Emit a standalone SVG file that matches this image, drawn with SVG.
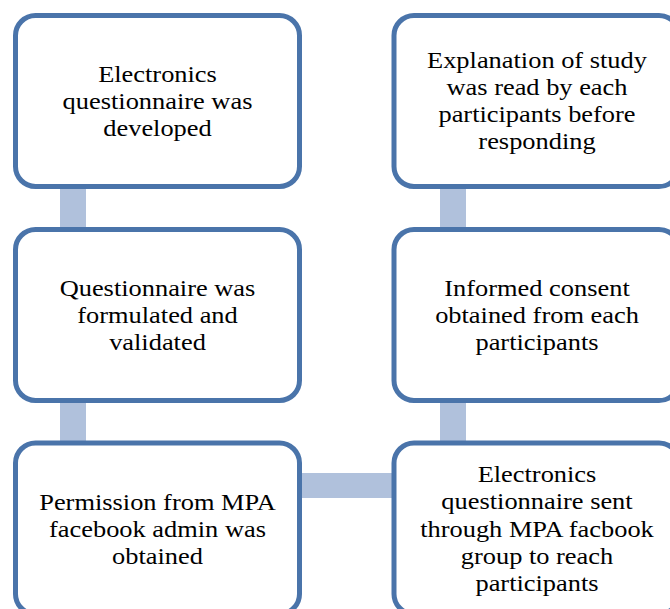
<svg xmlns="http://www.w3.org/2000/svg" width="670" height="609" viewBox="0 0 670 609">
<style>
.box{fill:#ffffff;stroke:#4a74aa;stroke-width:5}
.bar{fill:#b0c1dc}
.t{font-family:"Liberation Serif","Times New Roman",serif;font-size:24px;fill:#000;text-anchor:middle}
</style>
<rect width="670" height="609" fill="#ffffff"/>
<g id="connectors">
<rect class="bar" x="60" y="186" width="26" height="44"/>
<rect class="bar" x="60" y="400" width="26" height="44"/>
<rect class="bar" x="299" y="473" width="96" height="25"/>
<rect class="bar" x="440" y="186" width="26" height="44"/>
<rect class="bar" x="440" y="400" width="26" height="44"/>
</g>
<g id="n1">
<rect class="box" x="15.5" y="15.5" width="284" height="171" rx="20"/>
<text class="t" transform="translate(157.5,0) scale(1.1,1)"><tspan x="0" y="82">Electronics</tspan><tspan x="0" y="109">questionnaire was</tspan><tspan x="0" y="136">developed</tspan></text>
</g>
<g id="n2">
<rect class="box" x="15.5" y="229.5" width="284" height="171" rx="20"/>
<text class="t" transform="translate(157.5,0) scale(1.1,1)"><tspan x="0" y="296">Questionnaire was</tspan><tspan x="0" y="323">formulated and</tspan><tspan x="0" y="350">validated</tspan></text>
</g>
<g id="n3">
<rect class="box" x="15.5" y="443" width="284" height="171" rx="20"/>
<text class="t" transform="translate(157.5,0) scale(1.1,1)"><tspan x="0" y="510">Permission from MPA</tspan><tspan x="0" y="537">facebook admin was</tspan><tspan x="0" y="564">obtained</tspan></text>
</g>
<g id="n4">
<rect class="box" x="394" y="15.5" width="285" height="171" rx="20"/>
<text class="t" transform="translate(537,0) scale(1.1,1)"><tspan x="0" y="68">Explanation of study</tspan><tspan x="0" y="95">was read by each</tspan><tspan x="0" y="122">participants before</tspan><tspan x="0" y="149">responding</tspan></text>
</g>
<g id="n5">
<rect class="box" x="394" y="229.5" width="285" height="171" rx="20"/>
<text class="t" transform="translate(537,0) scale(1.1,1)"><tspan x="0" y="296">Informed consent</tspan><tspan x="0" y="323">obtained from each</tspan><tspan x="0" y="350">participants</tspan></text>
</g>
<g id="n6">
<rect class="box" x="394" y="443" width="285" height="171" rx="20"/>
<text class="t" transform="translate(537,0) scale(1.1,1)"><tspan x="0" y="482">Electronics</tspan><tspan x="0" y="509">questionnaire sent</tspan><tspan x="0" y="537">through MPA facbook</tspan><tspan x="0" y="564">group to reach</tspan><tspan x="0" y="591">participants</tspan></text>
</g>
</svg>
